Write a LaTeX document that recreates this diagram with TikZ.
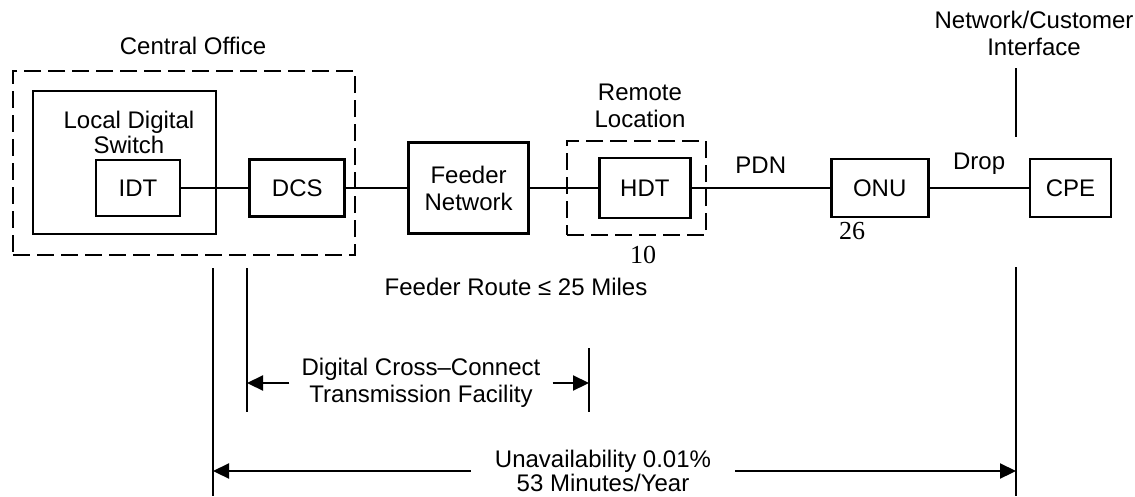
\documentclass[tikz,border=0pt]{standalone}
\usepackage{fontspec}
\setmainfont{Liberation Sans}
\newfontfamily\numfont{Liberation Serif}
\usetikzlibrary{arrows.meta,positioning}

\begin{document}
\begin{tikzpicture}[
      x=1pt, y=-1pt,
      font=\fontsize{24}{27}\selectfont,
      box/.style={rectangle, draw, line width=2.8pt, inner sep=0pt, align=center},
      dashbox/.style={rectangle, draw, line width=2.8pt, dash pattern=on 17pt off 7pt, inner sep=0pt},
      lbl/.style={inner sep=0pt, align=center},
      num/.style={inner sep=0pt, font=\numfont\fontsize{26}{28}\selectfont},
      link/.style={line width=2.8pt},
      dimline/.style={line width=2.2pt},
      arrow/.style={-{Triangle[length=16pt,width=15pt]}, line width=2.2pt}
    ]
      \useasboundingbox (0,0) rectangle (1135,496);

      % main chain
      \node[box, minimum width=84pt, minimum height=56pt] (idt) at (138,188) {IDT};
      \node[box, minimum width=95pt, minimum height=57pt, right=67pt of idt] (dcs) {DCS};
      \node[box, minimum width=120pt, minimum height=91pt, right=61pt of dcs] (feeder) {Feeder\\Network};
      \node[box, minimum width=91pt, minimum height=60pt, right=68pt of feeder] (hdt) {HDT};
      \node[box, minimum width=97pt, minimum height=58pt, right=138pt of hdt] (onu) {ONU};
      \node[box, minimum width=81pt, minimum height=58pt, right=99pt of onu] (cpe) {CPE};

      % enclosures
      \node[box, minimum width=183pt, minimum height=143pt] (lds) at (124.5,162.5) {};
      \node[lbl, font=\fontsize{24}{25}\selectfont] (ldstitle) at (129,132) {Local Digital\\Switch};
      \node[dashbox, minimum width=342pt, minimum height=184pt] (co) at (184,163) {};
      \node[lbl] (cotitle) at (193,46) {Central Office};
      \node[dashbox, minimum width=139pt, minimum height=94pt] (remote) at (636.5,188) {};
      \node[lbl] (remtitle) at (640,106) {Remote\\Location};
      \node[lbl] (nci) at (1034,33) {Network/Customer\\Interface};

      % links
      \draw[link] (idt) -- (dcs);
      \draw[link] (dcs) -- (feeder);
      \draw[link] (feeder) -- (hdt);
      \draw[link] (hdt) -- node[lbl, above=13pt] (pdn) {PDN} (onu);
      \draw[link] (onu) -- node[lbl, above=12pt] (drop) {Drop} (cpe);

      \node[num] (n10) at (643,255) {10};
      \node[num] (n26) at (852,231) {26};
      \node[lbl] (route) at (516,287) {Feeder Route ≤ 25 Miles};

      % reference lines
      \coordinate (ltop) at (213,268);
      \coordinate (lbot) at (213,496);
      \coordinate (dtop) at (247,268);
      \coordinate (dbot) at (247,412);
      \coordinate (htop) at (589,348);
      \coordinate (hbot) at (589,412);
      \coordinate (itop) at (1016,68);
      \coordinate (imid) at (1016,137);
      \coordinate (ilow) at (1016,267);
      \coordinate (ibot) at (1016,496);
      \draw[dimline] (ltop) -- (lbot);
      \draw[dimline] (dtop) -- (dbot);
      \draw[dimline] (htop) -- (hbot);
      \draw[dimline] (itop) -- (imid);
      \draw[dimline] (ilow) -- (ibot);

      % spans
      \node[lbl, inner xsep=12pt] (dcc) at (421,383) {Digital Cross--Connect\\Transmission Facility};
      \draw[arrow] (dcc.west) -- (dcc.west -| dtop);
      \draw[arrow] (dcc.east) -- (dcc.east -| htop);
      \node[lbl, inner xsep=24pt, font=\fontsize{24}{24}\selectfont] (unav) at (603,471) {Unavailability 0.01\%\\53 Minutes/Year};
      \draw[arrow] (unav.west) -- (unav.west -| ltop);
      \draw[arrow] (unav.east) -- (unav.east -| itop);
    \end{tikzpicture}
\end{document}
